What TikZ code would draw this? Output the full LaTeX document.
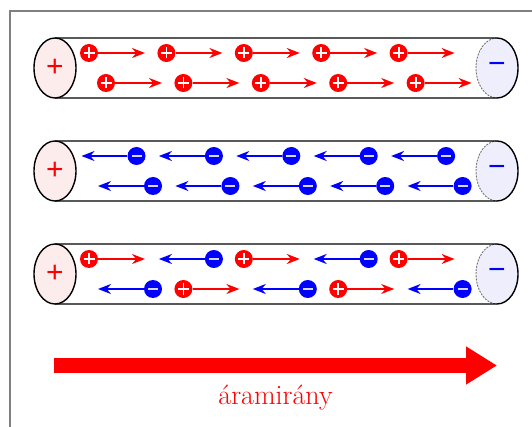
\documentclass[tikz,border=0pt]{standalone}
\usepackage{fontspec}
\usepackage{tikz}
\usetikzlibrary{arrows.meta,positioning,calc}
\newfontfamily\signfont{Liberation Sans}
\definecolor{posend}{RGB}{253,236,236}
\definecolor{negend}{RGB}{238,238,252}
\definecolor{framegray}{RGB}{128,128,128}
\definecolor{minusbar}{RGB}{215,215,235}
\tikzstyle{pcharge} = [circle, fill=red, minimum size=18pt, inner sep=0pt,
  path picture={\draw[white, line width=1.8pt]
    ([xshift=-5.5pt]path picture bounding box.center) -- ([xshift=5.5pt]path picture bounding box.center)
    ([yshift=-5.5pt]path picture bounding box.center) -- ([yshift=5.5pt]path picture bounding box.center);}]
\tikzstyle{ncharge} = [circle, fill=blue, minimum size=18pt, inner sep=0pt,
  path picture={\draw[minusbar, line width=2.4pt]
    ([xshift=-5pt]path picture bounding box.center) -- ([xshift=5pt]path picture bounding box.center);}]
\tikzstyle{sign} = [inner sep=0pt, font=\signfont\fontsize{30}{30}\selectfont]
\tikzset{drift/.style = {
    >=Stealth,
    -{Stealth[length=13pt,width=10pt]},
    line width=1.7pt
  },
  tubeline/.style = {black, line width=1.4pt}
}
\newcommand{\addpos}[3]{%
  \node[pcharge] (#1) at (#2,#3) {};
  \coordinate (#1t) at (#2+56,#3);
  \draw[drift, red] (#1) -- (#1t);
}
\newcommand{\addneg}[3]{%
  \node[ncharge] (#1) at (#2,#3) {};
  \coordinate (#1t) at (#2-55,#3);
  \draw[drift, blue] (#1) -- (#1t);
}
\newcommand{\wire}[2]{%
  \coordinate (#1a) at (55,#2);
  \coordinate (#1b) at (497,#2);
  \fill[white] (55,#2-30) rectangle (497,#2+30);
  \fill[negend] (#1b) ellipse (21pt and 30pt);
  \draw[black!55, line width=0.9pt, dash pattern=on 2pt off 1.2pt] ([yshift=30pt]#1b) arc (90:270:21pt and 30pt);
  \draw[tubeline] (55,#2-30) -- (497,#2-30) arc (90:-90:21pt and 30pt) -- (55,#2+30);
  \draw[tubeline, fill=posend] (#1a) ellipse (21pt and 30pt);
  \node[sign, text=red] (#1p) at (#1a) {+};
  \node[sign, text=blue] (#1n) at (#1b) {−};
}

\begin{document}
\begin{tikzpicture}[x=1pt, y=-1pt]
            \useasboundingbox (0,0) rectangle (532,427);
            % frame
            \draw[framegray, line width=1.6pt] (10,427) -- (10,11) -- (532,11);

            % wires
            \wire{w1}{68}
            \wire{w2}{171}
            \wire{w3}{274}

            % positive carriers
            \addpos{a1}{89}{53}
            \addpos{a2}{166.4}{53}
            \addpos{a3}{243.8}{53}
            \addpos{a4}{321.2}{53}
            \addpos{a5}{398.6}{53}
            \addpos{b1}{106}{83}
            \addpos{b2}{183.4}{83}
            \addpos{b3}{260.8}{83}
            \addpos{b4}{338.2}{83}
            \addpos{b5}{415.6}{83}

            % electrons
            \addneg{c1}{136.5}{156}
            \addneg{c2}{213.9}{156}
            \addneg{c3}{291.3}{156}
            \addneg{c4}{368.7}{156}
            \addneg{c5}{446.1}{156}
            \addneg{d1}{153}{186}
            \addneg{d2}{230.4}{186}
            \addneg{d3}{307.8}{186}
            \addneg{d4}{385.2}{186}
            \addneg{d5}{462.6}{186}

            % both kinds
            \addpos{e1}{89}{259}
            \addneg{e2}{213.9}{259}
            \addpos{e3}{243.8}{259}
            \addneg{e4}{368.7}{259}
            \addpos{e5}{398.6}{259}
            \addneg{f1}{153}{289}
            \addpos{f2}{183.4}{289}
            \addneg{f3}{307.8}{289}
            \addpos{f4}{338.2}{289}
            \addneg{f5}{462.6}{289}

            % current direction
            \coordinate (flowstart) at (54,365.5);
            \coordinate (flowend) at (497,365.5);
            \draw[red, line width=15pt, -{Triangle[length=31pt,width=36pt]}] (flowstart) -- (flowend);
            \node[red, inner sep=0pt, anchor=base, font=\fontsize{28}{28}\selectfont] (flowlabel) at (275.5,404) {áramirány};
\end{tikzpicture}
\end{document}
